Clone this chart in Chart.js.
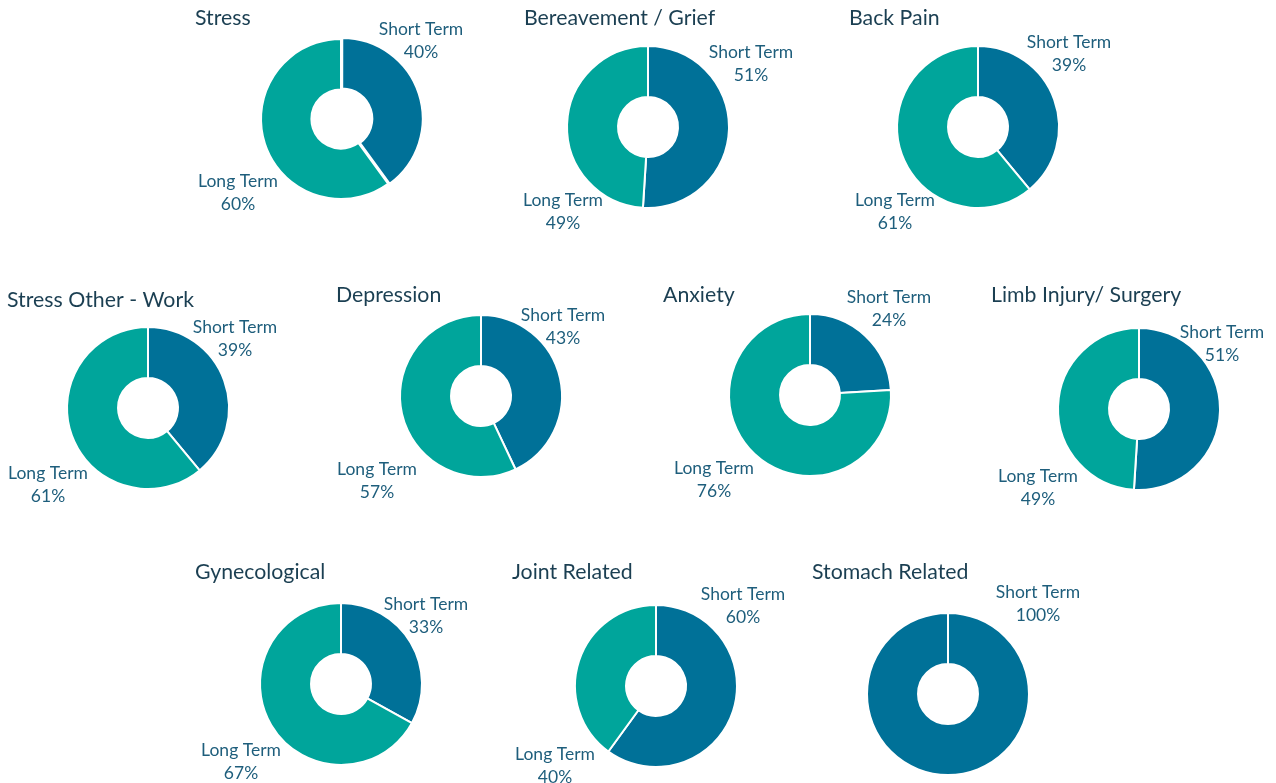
<!DOCTYPE html>
<html>
<head>
<meta charset="utf-8">
<script src="https://cdn.jsdelivr.net/npm/chart.js@4/dist/chart.umd.min.js"></script>
<style>
  html, body { margin: 0; padding: 0; background: #ffffff; }
  #wrap { position: relative; width: 1276px; height: 783px; overflow: hidden; }
  #wrap canvas { position: absolute; left: 0; top: 0; }
</style>
</head>
<body>
<div id="wrap"></div>
<script>
// ---- data ----
const titles = ["Stress", "Bereavement / Grief", "Back Pain", "Stress Other - Work", "Depression", "Anxiety", "Limb Injury/ Surgery", "Gynecological", "Joint Related", "Stomach Related"];
const seriesLabels = ["Short Term", "Long Term"];
const shortTerm = [40, 51, 39, 39, 43, 24, 51, 33, 60, 100];
const longTerm  = [60, 49, 61, 61, 57, 76, 49, 67, 40, 0];

// ---- layout (positions only) ----
const W = 1276, H = 783;
const layout = [
  { c: [341, 119], r: 80, t: [195, 18], s: [421, 29],  l: [238, 181], off: 5 },
  { c: [648, 127], r: 81, t: [524, 18], s: [751, 52],  l: [563, 200], off: 0 },
  { c: [978, 127], r: 81, t: [849, 18], s: [1069, 42], l: [895, 200], off: 0 },
  { c: [148, 408], r: 81, t: [7, 300],  s: [235, 327], l: [48, 473],  off: 0 },
  { c: [481, 396], r: 81, t: [336, 295], s: [563, 315], l: [377, 469], off: 0 },
  { c: [810, 395], r: 81, t: [663, 295], s: [889, 297], l: [714, 468], off: 0 },
  { c: [1139, 409], r: 81, t: [991, 295], s: [1222, 332], l: [1038, 476], off: 0 },
  { c: [341, 684], r: 81, t: [195, 572], s: [426, 604], l: [241, 750], off: 0 },
  { c: [656, 686], r: 81, t: [512, 572], s: [743, 594], l: [555, 754], off: 0 },
  { c: [948, 694], r: 81, t: [812, 572], s: [1038, 592], l: [0, 0], off: 0 }
];

const COLORS = ["#007198", "#00A59B"];
const TITLE_COLOR = "#1B3F52";
const LABEL_COLOR = "#1E5E7C";
const FONT = "Lato, 'Open Sans', sans-serif";

const textPlugin = {
  id: 'donutText',
  afterDraw(chart, args, opts) {
    const ctx = chart.ctx;
    const L = opts.layout;
    ctx.save();
    ctx.fillStyle = TITLE_COLOR;
    ctx.font = "21.3px " + FONT;
    ctx.textAlign = "left";
    ctx.textBaseline = "middle";
    ctx.fillText(opts.title, L.t[0], L.t[1]);
    ctx.fillStyle = LABEL_COLOR;
    ctx.font = "17.5px " + FONT;
    ctx.textAlign = "center";
    const vals = chart.data.datasets[0].data;
    const pos = [L.s, L.l];
    vals.forEach((v, k) => {
      if (!v) return;
      const p = pos[k];
      ctx.fillText(chart.data.labels[k], p[0], p[1]);
      ctx.fillText(v + "%", p[0], p[1] + 23);
    });
    ctx.restore();
  }
};

const wrap = document.getElementById('wrap');
titles.forEach((title, i) => {
  const L = layout[i];
  const cv = document.createElement('canvas');
  cv.width = W; cv.height = H;
  cv.style.width = W + "px"; cv.style.height = H + "px";
  wrap.appendChild(cv);
  const half = L.r + 1 + L.off / 2;
  const offsets = [L.off, 0];
  new Chart(cv, {
    type: 'doughnut',
    data: {
      labels: seriesLabels,
      datasets: [{
        data: [shortTerm[i], longTerm[i]],
        backgroundColor: COLORS,
        borderColor: "#ffffff",
        borderWidth: 2,
        offset: offsets
      }]
    },
    options: {
      responsive: false,
      animation: false,
      devicePixelRatio: 1,
      cutout: "37%",
      layout: {
        padding: {
          left: L.c[0] - half,
          right: W - L.c[0] - half,
          top: L.c[1] - half,
          bottom: H - L.c[1] - half
        }
      },
      plugins: {
        legend: { display: false },
        tooltip: { enabled: false },
        donutText: { title: title, layout: L }
      }
    },
    plugins: [textPlugin]
  });
});
</script>
</body>
</html>
